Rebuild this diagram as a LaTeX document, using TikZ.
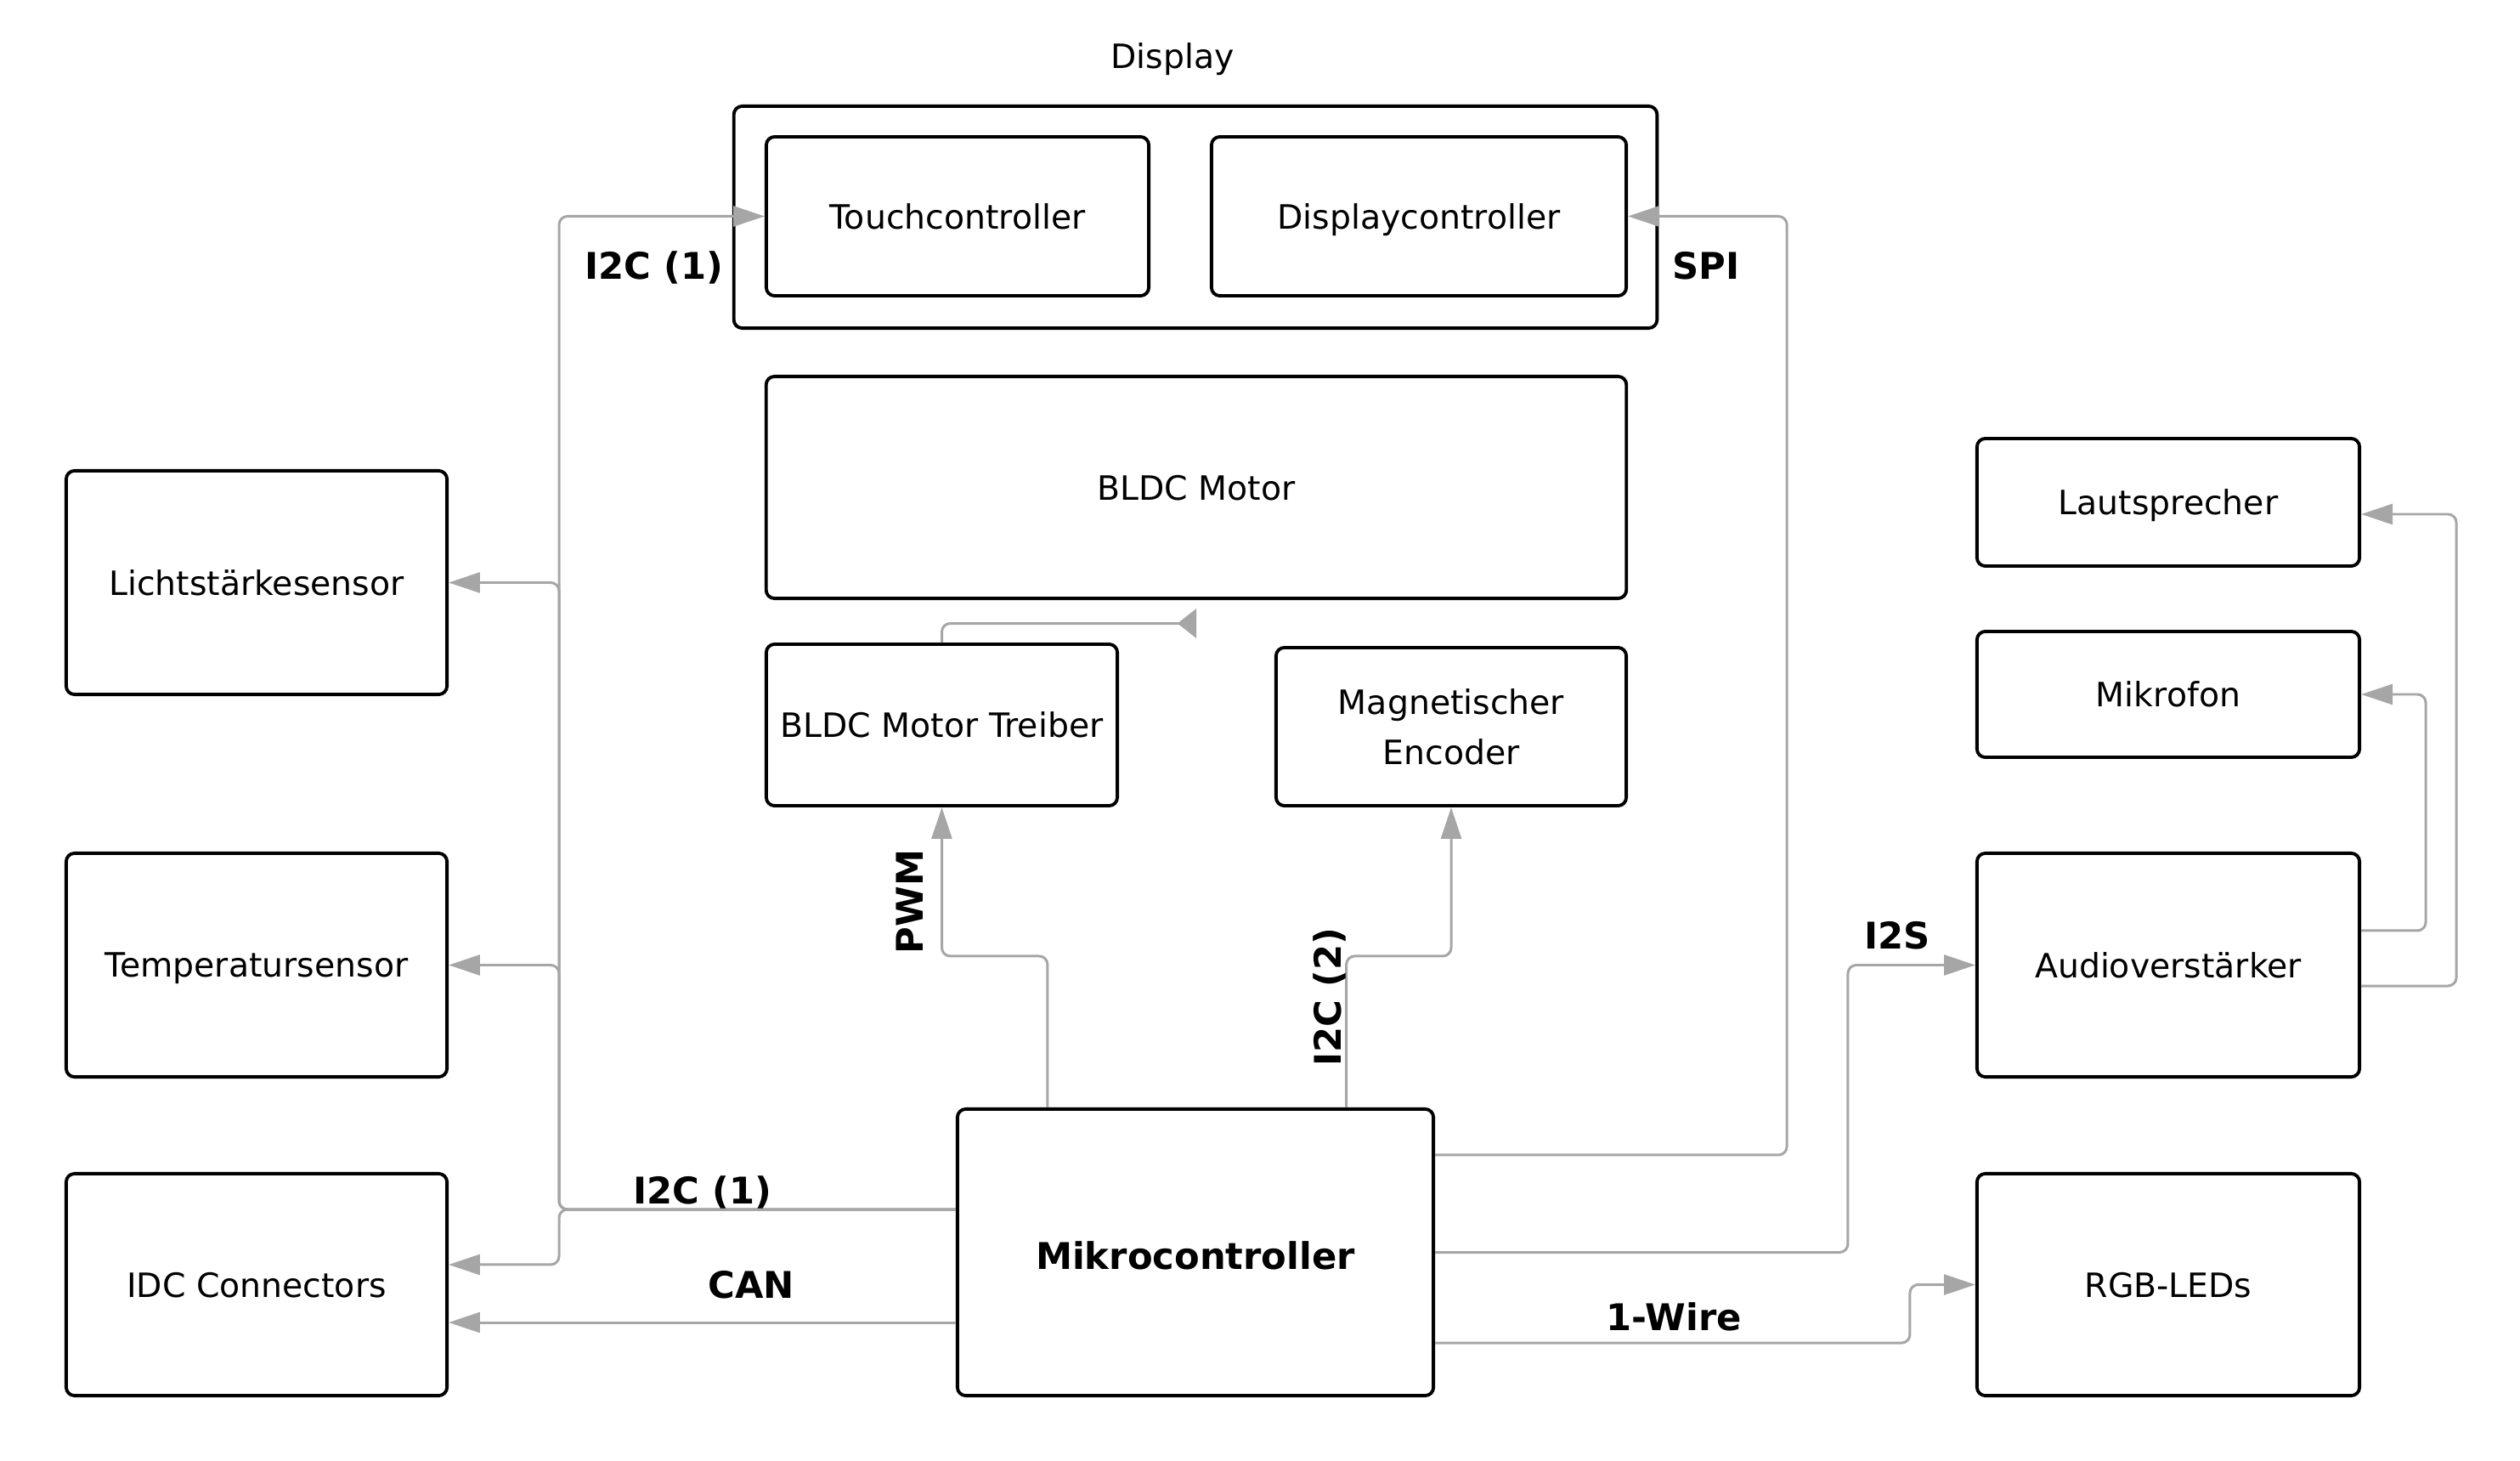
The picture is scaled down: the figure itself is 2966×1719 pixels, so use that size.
\documentclass[tikz,border=0pt]{standalone}
\usepackage{fontspec}
\setmainfont{DejaVu Sans}
\usetikzlibrary{arrows.meta,calc}
\definecolor{connc}{RGB}{166,166,166}
\begin{document}
\begin{tikzpicture}[x=0.01cm,y=-0.01cm,
  box/.style={draw=black, line width=1.1pt, rounded corners=2.8pt, align=center, inner sep=0pt,
    text depth=0pt, font=\fontsize{11.2}{17}\selectfont},
  plain/.style={inner sep=0pt, text depth=0pt, font=\fontsize{11.2}{17}\selectfont},
  lbl/.style={inner sep=0pt, text depth=0pt, font=\bfseries\fontsize{12.3}{14}\selectfont},
  wire/.style={draw=connc, line width=0.85pt, rounded corners=2.8pt},
  conn/.style={wire, -{Triangle[length=10.5pt,width=6.8pt]}}]
\useasboundingbox (0,0) rectangle (2966,1719);

% Display group
\node[box, minimum width=10.86cm, minimum height=2.61cm] (display) at (1407,255.5) {};
\node[plain] (displbl) at (1380,66) {Display};
\node[box, minimum width=4.50cm, minimum height=1.87cm] (touch) at (1127,254.5) {Touchcontroller};
\node[box, minimum width=4.88cm, minimum height=1.87cm] (dispc) at (1670,254.5) {Displaycontroller};

% Motor
\node[box, minimum width=10.12cm, minimum height=2.61cm] (motor) at (1408,573.5) {BLDC Motor};
\node[box, minimum width=4.13cm, minimum height=1.90cm] (treiber) at (1108.5,853) {BLDC Motor Treiber};
\node[box, minimum width=4.12cm, minimum height=1.86cm] (encoder) at (1708,855) {Magnetischer\\Encoder};

% MCU
\node[box, minimum width=5.60cm, minimum height=3.37cm, font=\bfseries\fontsize{12.3}{14}\selectfont] (mcu) at (1407,1473.5) {\raisebox{-2pt}{Mikrocontroller}};

% Left column
\node[box, minimum width=4.48cm, minimum height=2.63cm] (licht) at (302,685.5) {Lichtstärkesensor};
\node[box, minimum width=4.48cm, minimum height=2.63cm] (temp) at (302,1135.5) {Temperatursensor};
\node[box, minimum width=4.48cm, minimum height=2.61cm] (idc) at (302,1511.5) {IDC Connectors};

% Right column
\node[box, minimum width=4.50cm, minimum height=1.50cm] (laut) at (2552,591) {Lautsprecher};
\node[box, minimum width=4.50cm, minimum height=1.48cm] (mikro) at (2552,817) {Mikrofon};
\node[box, minimum width=4.50cm, minimum height=2.63cm] (audio) at (2552,1135.5) {Audioverstärker};
\node[box, minimum width=4.50cm, minimum height=2.61cm] (rgb) at (2552,1511.5) {RGB-LEDs};

% helper coordinates
\coordinate (bus) at (658,1423);
\coordinate (idcin) at ([yshift=0.235cm]idc.east);
\coordinate (canin) at ([yshift=-0.445cm]idc.east);
\coordinate (lautin) at ([yshift=-0.14cm]laut.east);

% I2C (1) bus
\draw[conn] (bus -| mcu.west) -- (bus) -- (bus |- touch.west) -- (touch.west);
\draw[conn] (bus -| mcu.west) -- (bus) -- (bus |- licht.east) -- (licht.east);
\draw[conn] (bus -| mcu.west) -- (bus) -- (bus |- temp.east) -- (temp.east);
\draw[conn] (bus -| mcu.west) -- (bus) -- (bus |- idcin) -- (idcin);

% CAN
\draw[conn] (canin -| mcu.west) -- (canin);

% PWM
\draw[conn] ([xshift=-1.74cm]mcu.north) -- ++(0,-178) -| (treiber.south);
% Treiber -> Motor
\draw[wire, -{Triangle[reversed,length=6.3pt,width=9.7pt]}] (treiber.north) |- ([yshift=-0.275cm]motor.south);
% I2C (2)
\draw[conn] ([xshift=1.775cm]mcu.north) -- ++(0,-178) -| (encoder.south);

% SPI
\draw[conn] ([yshift=1.145cm]mcu.east) -| ($(dispc.east)+(187,0)$) -- (dispc.east);
% I2S
\draw[conn] (mcu.east) -| ($(audio.west)+(-150,0)$) -- (audio.west);
% 1-Wire
\draw[conn] ([yshift=-1.065cm]mcu.east) -| ($(rgb.west)+(-77,0)$) -- (rgb.west);
% Audio -> Mikrofon / Lautsprecher
\draw[conn] ([yshift=0.405cm]audio.east) -| ($(mikro.east)+(76,0)$) -- (mikro.east);
\draw[conn] ([yshift=-0.245cm]audio.east) -| ($(lautin)+(112,0)$) -- (lautin);

% labels
\node[lbl] (l_i2c1a) at (770,312) {I2C (1)};
\node[lbl] (l_spi) at (2008,312) {SPI};
\node[lbl] (l_i2c1b) at (827,1400) {I2C (1)};
\node[lbl] (l_can) at (884,1511) {CAN};
\node[lbl, rotate=90] (l_pwm) at (1071,1061) {PWM};
\node[lbl, rotate=90] (l_i2c2) at (1562,1173) {I2C (2)};
\node[lbl] (l_i2s) at (2233,1100) {I2S};
\node[lbl] (l_wire) at (1970,1549) {1-Wire};
\end{tikzpicture}
\end{document}
